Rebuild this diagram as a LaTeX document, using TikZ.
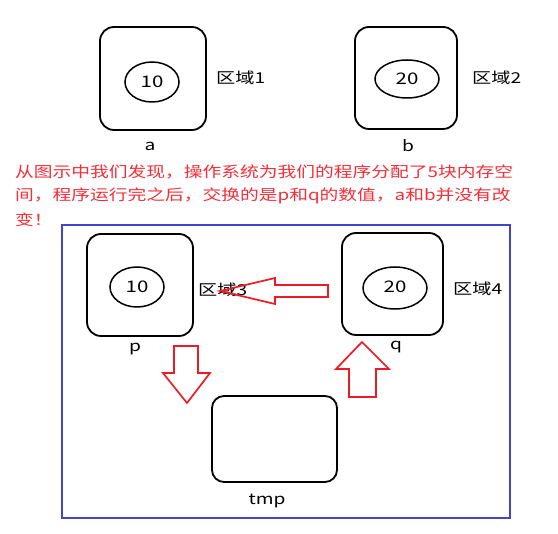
\documentclass[tikz,border=0pt]{standalone}
\usepackage{fontspec}
\newfontfamily\cjk[FakeStretch=1.28]{Noto Sans CJK SC}
\newfontfamily\cjknote[FakeStretch=1.25]{Noto Sans CJK SC}
\usetikzlibrary{positioning,shapes.geometric}
\definecolor{mred}{RGB}{237,28,36}
\definecolor{tred}{RGB}{245,45,55}
\definecolor{mblue}{RGB}{68,68,200}

\begin{document}
\begin{tikzpicture}[x=1pt,y=-1pt,
                font=\cjk\fontsize{15}{17}\selectfont,
                area/.style={rectangle,draw,line width=1.8pt,rounded corners=14pt},
                val/.style={ellipse,draw,line width=1.5pt,inner sep=0pt,font=\cjk\fontsize{16}{18}\selectfont},
                tag/.style={anchor=west,inner sep=0pt},
                note/.style={anchor=west,text=tred,inner sep=0pt,font=\cjknote\fontsize{15}{17}\selectfont},
                bigarrow/.style={draw=mred,line width=1.7pt,line join=miter},
                node distance=1mm]
                \useasboundingbox (0,0) rectangle (558,534);
                % top row
                \node[area,minimum width=106pt,minimum height=103pt] (a) at (153,78.5){};
                \node[val,minimum width=54pt,minimum height=40pt] (va) at (152,82){10};
                \node[tag] (texta) at (216,78){区域1};
                \node (namea) at (150,146){a};
                \node[area,minimum width=102pt,minimum height=102pt] (b) at (406,78){};
                \node[val,minimum width=64pt,minimum height=38pt] (vb) at (407,79){20};
                \node[tag] (textb) at (472,78){区域2};
                \node (nameb) at (408,146){b};
                % remark, one node per line
                \node[note] (remarka) at (15,172){从图示中我们发现，操作系统为我们的程序分配了5块内存空};
                \node[note] (remarkb) at (15,196){间，程序运行完之后，交换的是p和q的数值，a和b并没有改};
                \node[note] (remarkc) at (15,220){变！};
                % frame
                \draw[mblue,line width=2pt] (62,225) rectangle (510,518);
                \node[area,minimum width=106pt,minimum height=102pt] (p) at (140,285){};
                \node[val,minimum width=54pt,minimum height=40pt] (vp) at (137,287){10};
                \node[tag] (textp) at (198,290){区域3};
                \node (namep) at (135,349){p};
                \node[area,minimum width=101pt,minimum height=102pt] (q) at (392.5,284){};
                \node[val,minimum width=64pt,minimum height=42pt] (vq) at (395,288){\raisebox{3pt}{20}};
                \node[tag] (textq) at (453,289){区域4};
                \node (nameq) at (396,347){q};
                \node[area,rounded corners=12pt,minimum width=125pt,minimum height=86pt] (tmp) at (274.5,439){};
                \node (nametmp) at (267,501){tmp};
                % arrows
                \draw[bigarrow] (220,291) -- (275,278) -- (275,285) -- (328,285)
                                -- (328,297) -- (275,297) -- (275,304) -- cycle;
                \draw[bigarrow] (187,403) -- (163,373) -- (174,373) -- (174,346)
                                -- (198,346) -- (198,373) -- (210,373) -- cycle;
                \draw[bigarrow] (362,342) -- (389,369) -- (376,369) -- (376,397)
                                -- (349,397) -- (349,369) -- (336,369) -- cycle;
\end{tikzpicture}
\end{document}
